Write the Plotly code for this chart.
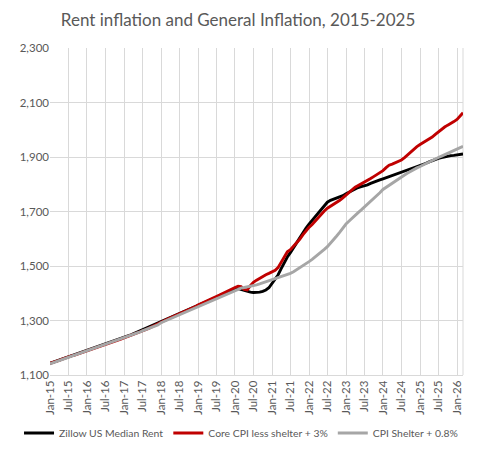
import pandas as pd
import plotly.graph_objects as go

# monthly values, Jan 2015 .. Mar 2026
months = pd.date_range("2015-01-01", "2026-03-01", freq="MS")

zillow = [
    1143, 1147, 1151, 1155, 1159, 1163, 1167, 1171, 1175, 1178, 1181, 1185,
    1190, 1194, 1198, 1202, 1206, 1210, 1214, 1218, 1221, 1225, 1228, 1232,
    1236, 1241, 1246, 1251, 1256, 1261, 1266, 1271, 1276, 1281, 1286, 1291,
    1296, 1301, 1306, 1311, 1316, 1321, 1326, 1331, 1336, 1341, 1346, 1351,
    1357, 1362, 1367, 1372, 1377, 1382, 1387, 1392, 1397, 1401, 1405, 1409,
    1416, 1417, 1414, 1409, 1405, 1404, 1403, 1403, 1404, 1407, 1412, 1420,
    1436, 1450, 1467, 1490, 1514, 1533, 1549, 1568, 1587, 1605, 1622, 1638,
    1654, 1668, 1681, 1694, 1708, 1722, 1734, 1741, 1745, 1748, 1752, 1758,
    1765, 1771, 1777, 1783, 1788, 1791, 1794, 1798, 1803, 1808, 1812, 1816,
    1820, 1824, 1828, 1833, 1838, 1842, 1845, 1849, 1853, 1857, 1861, 1865,
    1869, 1873, 1877, 1882, 1887, 1891, 1895, 1898, 1901, 1903, 1905, 1906,
    1907, 1909, 1911,
]

core_cpi = [
    1143, 1146, 1150, 1154, 1158, 1163, 1166, 1170, 1173, 1177, 1181, 1185,
    1190, 1193, 1197, 1201, 1205, 1210, 1213, 1217, 1220, 1224, 1228, 1232,
    1236, 1240, 1244, 1248, 1253, 1258, 1262, 1266, 1271, 1276, 1281, 1286,
    1294, 1299, 1304, 1309, 1314, 1319, 1324, 1329, 1334, 1339, 1344, 1350,
    1357, 1362, 1366, 1371, 1377, 1383, 1388, 1393, 1399, 1405, 1410, 1415,
    1421, 1426, 1424, 1414, 1412, 1428, 1440, 1448, 1455, 1463, 1468, 1473,
    1478, 1484, 1494, 1512, 1534, 1552, 1560, 1572, 1585, 1598, 1614, 1630,
    1642, 1652, 1664, 1675, 1688, 1702, 1712, 1719, 1727, 1734, 1741, 1750,
    1760, 1770, 1780, 1789, 1795, 1801, 1807, 1814, 1821, 1828, 1835, 1842,
    1850, 1861, 1870, 1874, 1878, 1883, 1889, 1898, 1908, 1920, 1930, 1938,
    1946, 1953, 1960, 1966, 1973, 1983, 1993, 2002, 2010, 2017, 2023, 2030,
    2038, 2049, 2062,
]

cpi_shelter = [
    1141, 1145, 1149, 1153, 1157, 1161, 1165, 1169, 1172, 1176, 1180, 1184,
    1188, 1192, 1196, 1200, 1204, 1208, 1212, 1216, 1220, 1224, 1228, 1232,
    1236, 1240, 1244, 1249, 1253, 1257, 1262, 1266, 1270, 1275, 1280, 1284,
    1292, 1297, 1302, 1307, 1312, 1317, 1322, 1327, 1332, 1337, 1342, 1347,
    1352, 1357, 1362, 1367, 1372, 1377, 1382, 1387, 1392, 1397, 1402, 1407,
    1412, 1416, 1419, 1421, 1423, 1425, 1428, 1431, 1434, 1438, 1442, 1446,
    1449, 1452, 1456, 1460, 1464, 1468, 1473, 1479, 1486, 1494, 1502, 1509,
    1516, 1524, 1532, 1541, 1551, 1561, 1571, 1583, 1596, 1610, 1624, 1639,
    1654, 1665, 1676, 1686, 1696, 1706, 1716, 1726, 1737, 1748, 1758, 1769,
    1781, 1789, 1797, 1805, 1813, 1820, 1827, 1834, 1841, 1848, 1854, 1860,
    1865, 1871, 1877, 1883, 1889, 1894, 1898, 1903, 1908, 1913, 1918, 1922,
    1927, 1933, 1939,
]

names = ["Zillow US Median Rent", "Core CPI less shelter + 3%", "CPI Shelter + 0.8%"]
colors = ["#000000", "#C00000", "#A6A6A6"]

fig = go.Figure()
for name, vals, col in zip(names, [zillow, core_cpi, cpi_shelter], colors):
    fig.add_trace(go.Scatter(x=months, y=vals, name=name, mode="lines",
                             line=dict(color=col, width=2.9)))

grid = "#D9D9D9"
fig.update_layout(
    width=479, height=452,
    margin=dict(l=50, r=16, t=48, b=77, autoexpand=False),
    paper_bgcolor="white", plot_bgcolor="white",
    font=dict(family="Lato", color="#595959", size=11),
    title=dict(text="Rent inflation and General Inflation, 2015-2025",
               x=0.497, xanchor="center", y=1 - 20 / 452, yanchor="middle",
               font=dict(size=17, color="#595959")),
    showlegend=True,
    legend=dict(orientation="h", x=-0.075, xanchor="left",
                y=-(433 - 375) / 327, yanchor="middle",
                font=dict(size=10.4, color="#595959"), itemwidth=30,
                tracegroupgap=0),
)
fig.update_xaxes(
    type="date", range=["2015-01-01", "2026-03-01"],
    tick0="2015-01-01", dtick="M6", tickformat="%b-%y", tickangle=-90,
    showgrid=True, gridcolor=grid, gridwidth=1,
    showline=True, linecolor=grid, zeroline=False,
    tickfont=dict(size=11.5), ticks="",
)
fig.update_yaxes(
    range=[1100, 2300], tick0=1100, dtick=200, tickformat=",",
    showgrid=True, gridcolor=grid, gridwidth=1,
    showline=False, zeroline=False, tickfont=dict(size=11.5), ticks="",
)
# right border of plot area
fig.add_shape(type="line", xref="paper", yref="paper", x0=1, x1=1, y0=0, y1=1,
              line=dict(color=grid, width=1), layer="below")

# drop the default page margin so the 479x452 figure sits at the window origin
fig.write_html("out.html", config={"displayModeBar": False},
               post_script="document.body.style.margin = '0';")
